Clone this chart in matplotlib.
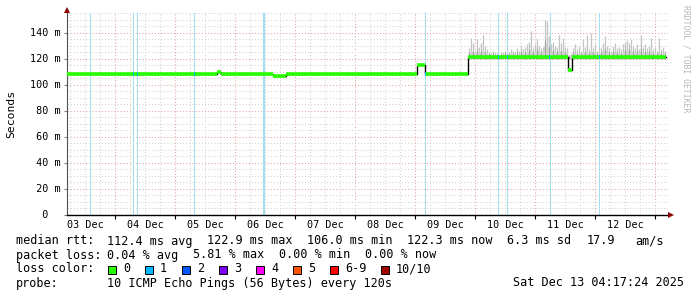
import matplotlib
matplotlib.use('Agg')
import matplotlib.pyplot as plt
import numpy as np
from matplotlib.patches import Rectangle
from matplotlib.transforms import blended_transform_factory

# ---------------- data (time axis: days since 03 Dec 2025 00:00) ----------------
day_labels = ['03 Dec', '04 Dec', '05 Dec', '06 Dec', '07 Dec',
              '08 Dec', '09 Dec', '10 Dec', '11 Dec', '12 Dec']
x_start, x_end = 0.2, 10.2167

# median rtt, piecewise constant segments (ms)
med_edges = [0.2, 2.70, 2.77, 3.628, 3.85, 6.04, 6.17, 6.888, 8.555, 8.61, 10.185]
med_vals = [108.5, 110.0, 108.5, 106.4, 108.5, 115.0, 108.5, 121.6, 111.0, 121.6]

# packet loss events (time, duration in hours)
loss_t = [0.583, 1.305, 1.372, 2.322, 3.483, 6.172, 7.388, 7.538, 8.245, 9.072]
loss_hours = [0.4, 0.4, 0.4, 0.4, 0.8, 0.4, 0.4, 0.4, 0.4, 0.4]

# smoke (ping spread) samples, every 48 min starting at smoke_t0
smoke_t0 = 6.9
smoke_step = 0.0333
smoke_floor = 120.0
smoke_hi = [128, 136, 132, 126, 135, 129, 132, 138, 130, 127,
            125, 124, 126, 125, 124, 123, 124, 125, 126, 124,
            125, 127, 126, 125, 128, 126, 130, 127, 129, 131,
            133, 141, 128, 131, 135, 130, 128, 129, 150, 149,
            137, 131, 133, 130, 129, 138, 132, 136, 129, 128,
            123, 124, 128, 131, 127, 130, 126, 135, 129, 138,
            127, 140, 128, 131, 126, 129, 128, 132, 137, 130,
            128, 126, 130, 132, 128, 129, 127, 131, 133, 134,
            132, 135, 130, 128, 131, 127, 138, 129, 131, 128,
            130, 136, 127, 129, 126, 136, 127, 129, 126]
smoke_mid = [124, 126, 125, 123, 126, 124, 125, 127, 124, 123,
             123, 122, 123, 123, 122, 122, 123, 123, 124, 123,
             123, 124, 123, 123, 124, 123, 125, 124, 124, 125,
             126, 128, 124, 125, 127, 125, 124, 126, 133, 131,
             128, 125, 126, 124, 125, 127, 125, 126, 124, 124,
             122, 122, 124, 125, 123, 124, 123, 126, 124, 127,
             123, 128, 124, 125, 123, 124, 124, 125, 127, 125,
             124, 123, 125, 126, 124, 124, 123, 125, 126, 127,
             126, 127, 125, 124, 125, 123, 127, 124, 125, 124,
             125, 126, 123, 124, 123, 126, 123, 124, 123]

y_ticks = [0, 20, 40, 60, 80, 100, 120, 140]
y_tick_labels = ['  0  ', ' 20 m', ' 40 m', ' 60 m', ' 80 m', '100 m', '120 m', '140 m']
y_max = 155

loss_names = ['0', '1', '2', '3', '4', '5', '6-9', '10/10']
loss_colors = ['#26ff00', '#00b8ff', '#0059ff', '#7e00ff', '#ff00ff', '#ff5500', '#ff0000', '#a10000']

legend_rows = [
    [('median rtt:', 16), ('112.4 ms avg', 107), ('122.9 ms max', 207), ('106.0 ms min', 307),
     ('122.3 ms now', 407), ('6.3 ms sd', 507), ('17.9', 587), ('am/s', 635)],
    [('packet loss:', 16), ('0.04 % avg', 107), ('5.81 % max', 193), ('0.00 % min', 279),
     ('0.00 % now', 365)],
    [('loss color:', 16)],
    [('probe:', 16), ('10 ICMP Echo Pings (56 Bytes) every 120s', 107),
     ('Sat Dec 13 04:17:24 2025', 513)],
]
legend_y = [241, 255, 269, 283]
box_x = [108, 145, 182, 219, 256, 293, 330, 381]

# ---------------- figure ----------------
W, H = 697, 297
MONO = 'DejaVu Sans Mono'
fig = plt.figure(figsize=(W / 100, H / 100), dpi=100)
fig.patch.set_facecolor('white')
ax = fig.add_axes([67 / W, 1 - 215 / H, 601 / W, 202 / H])
ax.set_xlim(x_start, x_end)
ax.set_ylim(0, y_max)

# grid
ax.set_xticks(np.arange(1, len(day_labels) + 1))
ax.set_xticks(np.arange(0.25, x_end, 0.25), minor=True)
ax.set_yticks(y_ticks)
ax.set_yticks(np.arange(0, y_max + 1, 5), minor=True)
ax.grid(True, which='major', color='#e2a4a4', linestyle=(0, (1, 2)), linewidth=0.75)
ax.grid(True, which='minor', color='#d2d2d2', linestyle=(0, (1, 2)), linewidth=0.75)
ax.set_axisbelow(True)
ax.tick_params(axis='x', which='major', length=3, width=0.8, color='#000000', labelbottom=False)
ax.tick_params(axis='y', which='major', length=2, width=0.8, color='#808080', labelleft=False)
ax.tick_params(which='minor', length=0)
for s in ['top', 'right']:
    ax.spines[s].set_visible(False)
ax.spines['left'].set_color('#505050')
ax.spines['left'].set_linewidth(0.8)
ax.spines['bottom'].set_color('#000000')
ax.spines['bottom'].set_linewidth(1.0)

px_per_day = 601 / (x_end - x_start)

# loss lines
for t, hrs in zip(loss_t, loss_hours):
    lw = hrs / 24 * px_per_day * 0.72
    ax.axvline(t, color='#a3def3', linewidth=lw, zorder=1)

# smoke: light spikes for the full spread, darker body near the median
st = smoke_t0 + smoke_step * np.arange(len(smoke_hi))
ax.vlines(st, smoke_floor, smoke_hi, color='#c4c4c4', linewidth=0.9, zorder=2)
ax.fill_between(st, smoke_floor, smoke_mid, color='#cfcfcf', linewidth=0, zorder=2.05)
ax.vlines(st[::2], smoke_floor, np.array(smoke_mid[::2]) + 1, color='#a0a0a0', linewidth=0.7, zorder=2.1)

# median: black step line + green segments
ax.step(med_edges, med_vals + [med_vals[-1]], where='post', color='#000000', linewidth=1.0, zorder=3)
ax.hlines(med_vals, med_edges[:-1], med_edges[1:], color=loss_colors[0], linewidth=2.6, zorder=4)
# loss colour on the median at loss events
for t in loss_t:
    i = np.searchsorted(med_edges, t) - 1
    ax.hlines(med_vals[i], t - 0.006, t + 0.006, color=loss_colors[1], linewidth=2.6, zorder=5)

# arrows
ax.plot([x_start], [y_max + 2.5], marker='^', color='#8b0000', markersize=4, clip_on=False,
        markeredgewidth=0, zorder=6)
ax.plot([x_end + 0.05], [0], marker='>', color='#8b0000', markersize=4, clip_on=False,
        markeredgewidth=0, zorder=6)

# x labels at noon
xt = ax.get_xaxis_transform()
for i, lab in enumerate(day_labels):
    ax.text(i + 0.5, -10 / 202, lab, transform=xt, ha='center', va='center',
            fontsize=7.3, family=MONO, color='#000000')

# y labels
yt = blended_transform_factory(fig.transFigure, ax.transData)
for v, lab in zip(y_ticks, y_tick_labels):
    ax.text(30 / W, v, lab, transform=yt, ha='left', va='center', fontsize=7.3,
            family=MONO, color='#000000')

fig.text(11 / W, 1 - 114 / H, 'Seconds', rotation=90, ha='center', va='center',
         fontsize=8.2, family=MONO)
fig.text(686 / W, 1 - 59 / H, 'RRDTOOL / TOBI OETIKER', rotation=270, ha='center', va='center',
         fontsize=5.9, family=MONO, color='#b8b8b8')

# legend
for row, y in zip(legend_rows, legend_y):
    for txt, x in row:
        fig.text(x / W, 1 - y / H, txt, ha='left', va='center', fontsize=8.5, family=MONO)
for name, col, bx in zip(loss_names, loss_colors, box_x):
    fig.patches.append(Rectangle((bx / W, 1 - 273.5 / H), 8 / W, 8 / H, transform=fig.transFigure,
                                 facecolor=col, edgecolor='#000000', linewidth=0.7))
    fig.text((bx + 15) / W, 1 - 269 / H, name, ha='left', va='center', fontsize=8.5, family=MONO)

fig.savefig('out.png', dpi=100)
